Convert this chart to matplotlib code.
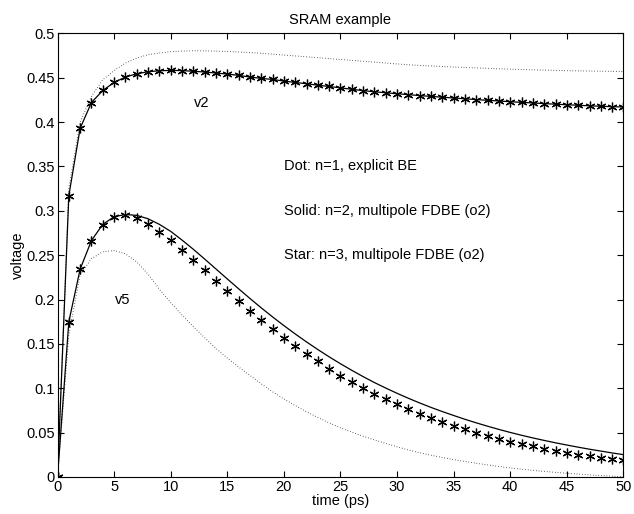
# SRAM example: voltage transients for three orders
import matplotlib
matplotlib.use('Agg')
import matplotlib.pyplot as plt

plt.rcParams['font.family'] = ['Liberation Sans', 'DejaVu Sans']

time = list(range(51))  # ps

# node v2
v2_dot = [0, 0.325, 0.400, 0.429, 0.4477, 0.458, 0.4665, 0.472, 0.4759, 0.4778,
          0.4793, 0.4800, 0.4804, 0.4802, 0.4800, 0.4795, 0.4790, 0.4783, 0.4775, 0.4765,
          0.4755, 0.4745, 0.4735, 0.4725, 0.4715, 0.4705, 0.4695, 0.4685, 0.4675, 0.4665,
          0.4655, 0.4645, 0.4638, 0.4632, 0.4626, 0.4620, 0.4615, 0.4610, 0.4605, 0.4600,
          0.4596, 0.4592, 0.4588, 0.4585, 0.4582, 0.4579, 0.4577, 0.4575, 0.4573, 0.4571,
          0.4570]
v2_star = [0, 0.317, 0.393, 0.422, 0.4356, 0.4446, 0.4507, 0.4544, 0.4567, 0.4578,
           0.4582, 0.4580, 0.4572, 0.4564, 0.4552, 0.4541, 0.4526, 0.4507, 0.4492, 0.4480,
           0.4462, 0.4446, 0.4432, 0.4415, 0.4401, 0.4385, 0.4369, 0.4354, 0.4341, 0.4330,
           0.4319, 0.4309, 0.4298, 0.4289, 0.4280, 0.4271, 0.4262, 0.4253, 0.4245, 0.4237,
           0.4229, 0.4222, 0.4215, 0.4208, 0.4201, 0.4195, 0.4189, 0.4183, 0.4178, 0.4173,
           0.4170]
v2_solid = list(v2_star)  # n=2 and n=3 coincide for v2

# node v5
v5_dot = [0, 0.160, 0.228, 0.246, 0.2538, 0.2552, 0.2515, 0.2425, 0.2285, 0.2115,
          0.1965, 0.1825, 0.1695, 0.157, 0.145, 0.134, 0.124, 0.1145, 0.105, 0.096,
          0.088, 0.0805, 0.0735, 0.067, 0.061, 0.0555, 0.0505, 0.046, 0.0418, 0.0378,
          0.034, 0.0305, 0.0273, 0.0245, 0.022, 0.0196, 0.0175, 0.0155, 0.0136, 0.0118,
          0.0102, 0.0088, 0.0075, 0.0063, 0.0052, 0.0042, 0.0033, 0.0024, 0.0016, 0.0009,
          0.0003]
v5_solid = [0, 0.175, 0.2342, 0.2665, 0.2847, 0.2933, 0.2958, 0.2948, 0.2910, 0.2847,
            0.2768, 0.2670, 0.2566, 0.2456, 0.2344, 0.2232, 0.2121, 0.2012, 0.1906, 0.1804,
            0.1706, 0.1612, 0.1522, 0.1436, 0.1354, 0.1276, 0.1202, 0.1131, 0.1064, 0.1002,
            0.0943, 0.0887, 0.0834, 0.0784, 0.0737, 0.0693, 0.0650, 0.0610, 0.0572, 0.0536,
            0.0502, 0.0470, 0.0440, 0.0412, 0.0385, 0.0360, 0.0336, 0.0313, 0.0292, 0.0271,
            0.0252]
v5_star = [0, 0.1748, 0.2342, 0.2665, 0.2845, 0.2928, 0.2951, 0.2917, 0.2853, 0.2766,
           0.2673, 0.2560, 0.2447, 0.2334, 0.2210, 0.2101, 0.1988, 0.1875, 0.1770, 0.1669,
           0.1571, 0.1477, 0.1390, 0.1305, 0.1221, 0.1142, 0.1071, 0.1004, 0.0936, 0.0880,
           0.0820, 0.0763, 0.0714, 0.0669, 0.0620, 0.0579, 0.0538, 0.0500, 0.0462, 0.0428,
           0.0398, 0.0372, 0.0346, 0.0319, 0.0297, 0.0274, 0.0251, 0.0233, 0.0218, 0.0203,
           0.0188]

xticks = list(range(0, 51, 5))
yticks = [0, 0.05, 0.1, 0.15, 0.2, 0.25, 0.3, 0.35, 0.4, 0.45, 0.5]
ytick_labels = ['0', '0.05', '0.1', '0.15', '0.2', '0.25', '0.3', '0.35', '0.4', '0.45', '0.5']

fig = plt.figure(figsize=(6.34, 5.14), dpi=100)
ax = fig.add_axes([0.0907, 0.072, 0.8927, 0.8632])

fs = 10.5
dotted = (0, (0.6, 2.2))
star = (6, 2, 0)
for dot, solid, st in ((v2_dot, v2_solid, v2_star), (v5_dot, v5_solid, v5_star)):
    ax.plot(time, dot, color='black', linestyle=dotted, linewidth=0.7)
    ax.plot(time, solid, color='black', linewidth=0.9)
    ax.plot(time, st, linestyle='none', marker=star, markersize=7,
            markeredgewidth=0.9, color='black')

ax.text(12.7, 0.421, 'v2', ha='center', va='center', fontsize=fs)
ax.text(5.8, 0.200, 'v5', ha='center', va='center', fontsize=fs)
ax.text(20, 0.35, 'Dot: n=1, explicit BE', va='center', fontsize=fs)
ax.text(20, 0.30, 'Solid: n=2, multipole FDBE (o2)', va='center', fontsize=fs)
ax.text(20, 0.25, 'Star: n=3, multipole FDBE (o2)', va='center', fontsize=fs)

ax.set_xlim(0, 50)
ax.set_ylim(0, 0.5)
ax.set_xticks(xticks)
ax.set_yticks(yticks)
ax.set_yticklabels(ytick_labels)
ax.tick_params(direction='in', top=True, right=True, labelsize=fs, length=4, pad=2)
for s in ax.spines.values():
    s.set_linewidth(0.8)
ax.set_title('SRAM example', fontsize=fs, pad=7)
ax.set_xlabel('time (ps)', fontsize=fs, labelpad=0)
ax.set_ylabel('voltage', fontsize=fs, labelpad=1)

fig.savefig('out.png', dpi=100)
